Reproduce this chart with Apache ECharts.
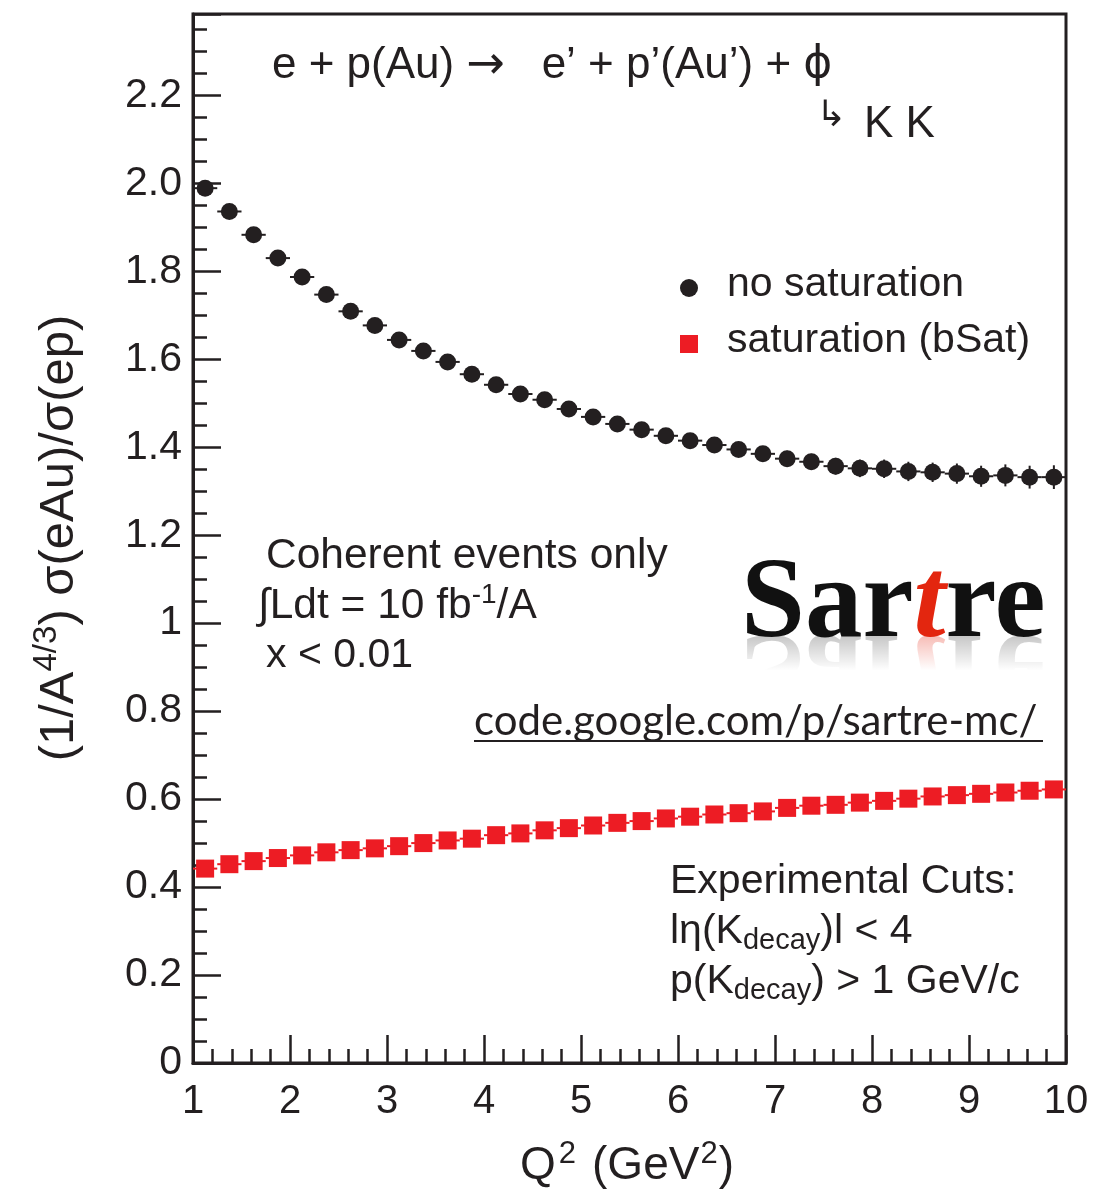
<!DOCTYPE html>
<html>
<head>
<meta charset="utf-8">
<title>Sartre: coherent phi production, eAu / ep ratio</title>
<script src="https://cdn.jsdelivr.net/npm/echarts@6/dist/echarts.min.js"></script>
<style>
  html, body { margin: 0; padding: 0; background: #ffffff; }
  #chart { width: 1109px; height: 1190px; }
</style>
</head>
<body>
<div id="chart"></div>
<script>
// Q^2 bin centres (GeV^2), bin half-width 0.125
const q2 = [1.125, 1.375, 1.625, 1.875, 2.125, 2.375, 2.625, 2.875, 3.125, 3.375, 3.625, 3.875,
            4.125, 4.375, 4.625, 4.875, 5.125, 5.375, 5.625, 5.875, 6.125, 6.375, 6.625, 6.875,
            7.125, 7.375, 7.625, 7.875, 8.125, 8.375, 8.625, 8.875, 9.125, 9.375, 9.625, 9.875];
const q2HalfWidth = 0.125;

// (1/A^{4/3}) sigma(eAu)/sigma(ep), no saturation
const noSat = [1.989, 1.936, 1.883, 1.830, 1.787, 1.747, 1.709, 1.677, 1.644, 1.619, 1.594, 1.566,
               1.542, 1.521, 1.508, 1.487, 1.469, 1.453, 1.440, 1.426, 1.415, 1.405, 1.395, 1.385,
               1.374, 1.367, 1.357, 1.352, 1.351, 1.345, 1.343, 1.340, 1.334, 1.336, 1.332, 1.332];
const noSatErr = [0.006, 0.006, 0.007, 0.007, 0.007, 0.008, 0.008, 0.008, 0.009, 0.009, 0.009, 0.010,
                  0.010, 0.011, 0.011, 0.012, 0.012, 0.013, 0.013, 0.014, 0.015, 0.015, 0.016, 0.017,
                  0.018, 0.018, 0.019, 0.020, 0.021, 0.022, 0.022, 0.023, 0.024, 0.025, 0.026, 0.027];

// same ratio with saturation (bSat dipole model)
const sat = [0.442, 0.452, 0.459, 0.466, 0.472, 0.479, 0.484, 0.488, 0.493, 0.500, 0.506, 0.510,
             0.518, 0.522, 0.529, 0.534, 0.540, 0.546, 0.550, 0.556, 0.560, 0.565, 0.568, 0.572,
             0.580, 0.585, 0.587, 0.592, 0.596, 0.601, 0.606, 0.609, 0.612, 0.615, 0.619, 0.622];
const satErr = [0.004, 0.004, 0.004, 0.004, 0.004, 0.004, 0.004, 0.004, 0.004, 0.005, 0.005, 0.005,
                0.005, 0.005, 0.005, 0.005, 0.005, 0.005, 0.006, 0.006, 0.006, 0.006, 0.006, 0.006,
                0.006, 0.006, 0.007, 0.007, 0.007, 0.007, 0.007, 0.007, 0.008, 0.008, 0.008, 0.008];

const seriesNames = ['no saturation', 'saturation (bSat)'];

// axis tick labels
const xTickLabels = ['1', '2', '3', '4', '5', '6', '7', '8', '9', '10'];
const yTickLabels = ['0', '0.2', '0.4', '0.6', '0.8', '1', '1.2', '1.4', '1.6', '1.8', '2.0', '2.2'];

const INK = '#231f20';
const RED = '#ed1c24';
const SANS = '"Liberation Sans", Arial, Helvetica, sans-serif';
const SERIF = '"Liberation Serif", "Times New Roman", serif';
const SYMBOLS = '"DejaVu Sans", sans-serif';

const chart = echarts.init(document.getElementById('chart'), null, { renderer: 'canvas' });

function rows(ys, errs) {
  return q2.map((x, i) => [x, ys[i], errs[i]]);
}

function errorBars(color) {
  return function (params, api) {
    const x = api.value(0), y = api.value(1), e = api.value(2);
    const l = api.coord([x - q2HalfWidth, y]);
    const r = api.coord([x + q2HalfWidth, y]);
    const t = api.coord([x, y + e]);
    const b = api.coord([x, y - e]);
    return {
      type: 'group',
      children: [
        { type: 'line', shape: { x1: l[0], y1: l[1], x2: r[0], y2: r[1] },
          style: { stroke: color, lineWidth: 2 } },
        { type: 'line', shape: { x1: t[0], y1: t[1], x2: b[0], y2: b[1] },
          style: { stroke: color, lineWidth: 2 } }
      ]
    };
  };
}

const axisCommon = {
  axisLine: { show: true, lineStyle: { color: INK, width: 3 } },
  axisTick: { show: true, inside: true, length: 28, lineStyle: { color: INK, width: 2.5 } },
  minorTick: { show: true, length: 14, lineStyle: { color: INK, width: 2.5 } },
  splitLine: { show: false },
  minorSplitLine: { show: false },
  axisLabel: { color: INK, fontFamily: SANS, fontSize: 40 }
};

const logoRich = (ink, accent) => ({
  b: { fontFamily: SERIF, fontWeight: 'bold', fontSize: 115, fill: ink },
  t: { fontFamily: SERIF, fontWeight: 'bold', fontStyle: 'italic', fontSize: 115, fill: accent }
});

const option = {
  animation: false,
  backgroundColor: '#ffffff',
  grid: {
    left: 193, right: 43, top: 14, bottom: 127,
    show: true, borderColor: INK, borderWidth: 3, backgroundColor: 'transparent'
  },
  xAxis: Object.assign({}, axisCommon, {
    type: 'value', min: 1, max: 10, interval: 1,
    minorTick: Object.assign({}, axisCommon.minorTick, { splitNumber: 5 }),
    axisLabel: Object.assign({}, axisCommon.axisLabel, {
      margin: 19,
      formatter: v => xTickLabels[Math.round(v) - 1]
    })
  }),
  yAxis: Object.assign({}, axisCommon, {
    type: 'value', min: 0, max: 2.385, interval: 0.2,
    minorTick: Object.assign({}, axisCommon.minorTick, { splitNumber: 4 }),
    axisLabel: Object.assign({}, axisCommon.axisLabel, {
      fontSize: 41, margin: 11, showMaxLabel: false,
      formatter: v => yTickLabels[Math.round(v / 0.2)] || ''
    })
  }),
  series: [
    {
      type: 'custom', name: seriesNames[0] + ' errors', z: 2,
      renderItem: errorBars(INK), data: rows(noSat, noSatErr),
      encode: { x: 0, y: 1 }, silent: true
    },
    {
      type: 'custom', name: seriesNames[1] + ' errors', z: 2,
      renderItem: errorBars(RED), data: rows(sat, satErr),
      encode: { x: 0, y: 1 }, silent: true
    },
    {
      type: 'scatter', name: seriesNames[0], z: 3,
      symbol: 'circle', symbolSize: 17,
      itemStyle: { color: INK, opacity: 1 },
      data: q2.map((x, i) => [x, noSat[i]])
    },
    {
      type: 'scatter', name: seriesNames[1], z: 3,
      symbol: 'rect', symbolSize: 18,
      itemStyle: { color: RED, opacity: 1 },
      data: q2.map((x, i) => [x, sat[i]])
    }
  ],
  graphic: [
    // process
    { type: 'text', x: 272, y: 66, style: {
        text: '{a|e + p(Au) }{r|\u2192}{a|   e\u2019 + p\u2019(Au\u2019) + }{f|\u03d5}', verticalAlign: 'middle',
        rich: {
          a: { fontFamily: SANS, fontSize: 44, fill: INK },
          r: { fontFamily: SYMBOLS, fontSize: 46, fill: INK },
          f: { fontFamily: SYMBOLS, fontSize: 44, fill: INK }
        } } },
    { type: 'text', x: 816, y: 117, style: {
        text: '\u21b3', font: '36px ' + SYMBOLS, fill: INK, verticalAlign: 'middle' } },
    { type: 'text', x: 864, y: 125, style: {
        text: 'K K', font: '44px ' + SANS, fill: INK, verticalAlign: 'middle' } },

    // legend
    { type: 'circle', shape: { cx: 689, cy: 288, r: 9 }, style: { fill: INK } },
    { type: 'text', x: 727, y: 285, style: {
        text: seriesNames[0], font: '41px ' + SANS, fill: INK, verticalAlign: 'middle' } },
    { type: 'rect', shape: { x: 680, y: 335, width: 18, height: 18 }, style: { fill: RED } },
    { type: 'text', x: 727, y: 341, style: {
        text: seriesNames[1], font: '41px ' + SANS, fill: INK, verticalAlign: 'middle' } },

    // run conditions
    { type: 'text', x: 266, y: 556, style: {
        text: 'Coherent events only', font: '42.5px ' + SANS, fill: INK, verticalAlign: 'middle' } },
    { type: 'text', x: 258, y: 606, style: {
        text: '{a|\u222bLdt = 10 fb}{sup|-1}{a|/A}', fill: INK, verticalAlign: 'middle',
        rich: {
          a: { fontFamily: SANS, fontSize: 42.5, fill: INK },
          sup: { fontFamily: SANS, fontSize: 28, fill: INK, padding: [0, 0, 22, 0] }
        } } },
    { type: 'text', x: 266, y: 656, style: {
        text: 'x < 0.01', font: '41px ' + SANS, fill: INK, verticalAlign: 'middle' } },

    // Sartre logo with a faded mirror image under it
    { type: 'text', x: 741, y: 666, scaleY: -1, style: {
        text: '{b|Sar}{t|t}{b|re}', verticalAlign: 'middle', opacity: 0.3,
        rich: logoRich('#444444', '#e3260f') } },
    { type: 'rect', shape: { x: 730, y: 636, width: 328, height: 82 }, style: {
        fill: { type: 'linear', x: 0, y: 0, x2: 0, y2: 1, colorStops: [
          { offset: 0, color: 'rgba(255,255,255,0)' },
          { offset: 0.42, color: 'rgba(255,255,255,1)' },
          { offset: 1, color: 'rgba(255,255,255,1)' }] } } },
    { type: 'text', x: 741, y: 606, style: {
        text: '{b|Sar}{t|t}{b|re}', verticalAlign: 'middle',
        rich: logoRich('#111111', '#e3260f') } },

    // web address
    { type: 'text', x: 474, y: 721, style: {
        text: 'code.google.com/p/sartre-mc/', font: '42px Lato, "Open Sans", sans-serif',
        fill: INK, verticalAlign: 'middle' } },
    { type: 'line', shape: { x1: 474, y1: 741, x2: 1043, y2: 741 }, style: { stroke: INK, lineWidth: 2 } },

    // cuts
    { type: 'text', x: 670, y: 882, style: {
        text: 'Experimental Cuts:', font: '41px ' + SANS, fill: INK, verticalAlign: 'middle' } },
    { type: 'text', x: 670, y: 932, style: {
        text: '{a|l\u03b7(K}{sub|decay}{a|)l < 4}', verticalAlign: 'middle',
        rich: {
          a: { fontFamily: SANS, fontSize: 41, fill: INK },
          sub: { fontFamily: SANS, fontSize: 29, fill: INK, padding: [18, 0, 0, 0] }
        } } },
    { type: 'text', x: 670, y: 982, style: {
        text: '{a|p(K}{sub|decay}{a|) > 1 GeV/c}', verticalAlign: 'middle',
        rich: {
          a: { fontFamily: SANS, fontSize: 41, fill: INK },
          sub: { fontFamily: SANS, fontSize: 29, fill: INK, padding: [18, 0, 0, 0] }
        } } },

    // axis titles
    { type: 'text', x: 627, y: 1166, style: {
        text: '{a|Q}{s1|2}{a|(GeV}{s2|2}{a|)}', align: 'center', verticalAlign: 'middle',
        rich: {
          a: { fontFamily: SANS, fontSize: 46, fill: INK },
          s1: { fontFamily: SANS, fontSize: 31, fill: INK, padding: [0, 16, 23, 3] },
          s2: { fontFamily: SANS, fontSize: 31, fill: INK, padding: [0, 1, 23, 1] }
        } } },
    { type: 'text', x: 59, y: 538, rotation: Math.PI / 2, style: {
        text: '{a|(1/A}{sup|4/3}{a|) \u03c3(eAu)/\u03c3(ep)}', align: 'center', verticalAlign: 'middle',
        rich: {
          a: { fontFamily: SANS, fontSize: 49, fill: INK },
          sup: { fontFamily: SANS, fontSize: 33, fill: INK, padding: [0, 0, 25, 0] }
        } } }
  ]
};

chart.setOption(option);
</script>
</body>
</html>
